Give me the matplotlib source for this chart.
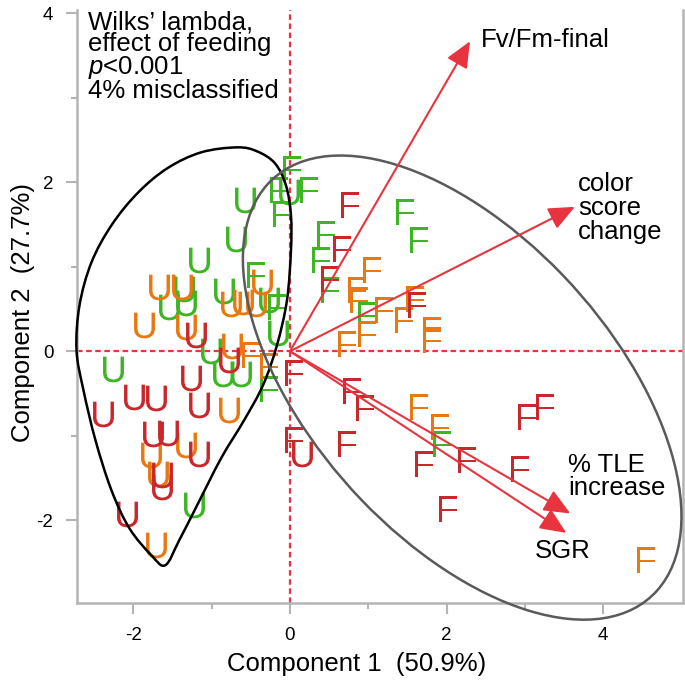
import matplotlib
matplotlib.use("Agg")
import matplotlib.pyplot as plt
import numpy as np
from matplotlib.path import Path
from matplotlib.patches import PathPatch, Ellipse

plt.rcParams['font.family'] = ['Liberation Sans', 'DejaVu Sans']
plt.rcParams['mathtext.fontset'] = 'custom'
plt.rcParams['mathtext.rm'] = 'Liberation Sans'
plt.rcParams['mathtext.it'] = 'Liberation Sans:italic'
plt.rcParams['axes.unicode_minus'] = False

GREEN = '#3db524'
ORANGE = '#e8780f'
RED = '#c8282b'
ARROW = '#e8343f'

# --- scores: unfed (U) and fed (F), by colour group ---
u_green_x = [-0.577, -0.692, -1.159, -1.350, -1.325, -1.541, -0.841, -0.268, -0.153, -0.013,
             -1.010, -0.854, -0.628, -2.264, -1.223]
u_green_y = [1.787, 1.334, 1.077, 0.742, 0.568, 0.524, 0.710, 0.604, 0.221, 1.885,
             0.004, -0.264, -0.264, -0.213, -1.822]
u_orange_x = [-1.669, -1.376, -1.860, -1.329, -0.755, -0.599, -0.437, -0.357, -0.735, -0.777,
              -1.329, -1.775, -1.690, -1.711]
u_orange_y = [0.761, 0.757, 0.308, 0.284, 0.564, 0.583, 0.564, 0.820, 0.063, -0.698,
              -1.112, -1.231, -1.447, -2.296]
u_red_x = [-1.197, -0.777, -1.261, -1.159, -2.391, -1.987, -1.711, -1.754, -1.563, -1.159,
           -1.631, -1.631, -2.076, 0.157]
u_red_y = [0.189, -0.107, -0.320, -0.639, -0.737, -0.541, -0.550, -0.974, -0.964, -1.211,
           -1.467, -1.609, -1.921, -1.211]

f_green_x = [0.029, -0.140, 0.242, -0.098, 1.474, 1.643, 0.455, 0.391, 0.518, 0.985,
             -0.437, -0.162, -0.268, 1.940]
f_green_y = [2.162, 1.905, 1.905, 1.630, 1.649, 1.314, 1.393, 1.077, 0.722, 0.426,
             0.899, 0.524, -0.441, -1.092]
f_orange_x = [1.048, 0.857, 0.879, 1.197, 1.452, 1.601, 0.730, 0.985, 1.813, 1.813,
              -0.501, -0.268, 1.643, 1.920, 4.552]
f_orange_y = [0.959, 0.722, 0.604, 0.485, 0.367, 0.624, 0.091, 0.209, 0.249, 0.130,
              -0.047, -0.178, -0.659, -0.896, -2.473]
f_red_x = [0.773, 0.666, 0.518, 1.622, 0.051, 0.794, 0.964, 0.730, 1.707, 2.259,
           3.023, 3.257, 2.939, 2.025, 0.051]
f_red_y = [1.728, 1.215, 0.860, 0.544, -0.254, -0.473, -0.669, -1.092, -1.329, -1.290,
           -0.778, -0.659, -1.388, -1.862, -1.053]

# --- loadings (arrow tips) ---
load_names = ['Fv/Fm-final', 'color\nscore\nchange', '% TLE\nincrease', 'SGR']
load_x = [2.30, 3.64, 3.58, 3.53]
load_y = [3.67, 1.71, -1.92, -2.15]

# --- group outlines ---
unfed_outline_x = [-0.675, -0.420, -0.191, -0.051, 0.013, 0.013, -0.038, -0.166, -0.344, -0.586,
                   -0.879, -1.185, -1.414, -1.592, -1.771, -2.051, -2.280, -2.484, -2.637, -2.726,
                   -2.688, -2.535, -2.280, -1.949, -1.567, -1.134]
unfed_outline_y = [2.414, 2.367, 2.225, 1.964, 1.609, 1.195, 0.604, 0.071, -0.402, -0.817,
                   -1.266, -1.822, -2.237, -2.533, -2.414, -2.095, -1.645, -1.053, -0.462, 0.012,
                   0.544, 1.053, 1.491, 1.870, 2.166, 2.355]
fed_center = (2.20, -0.43)
fed_width, fed_height, fed_angle = 6.92, 3.70, -44


def smooth_closed_path(xs, ys):
    pts = np.column_stack([xs, ys])
    n = len(pts)
    verts = [pts[0]]
    codes = [Path.MOVETO]
    for i in range(n):
        p0, p1, p2, p3 = pts[i - 1], pts[i], pts[(i + 1) % n], pts[(i + 2) % n]
        verts += [p1 + (p2 - p0) / 6.0, p2 - (p3 - p1) / 6.0, p2]
        codes += [Path.CURVE4] * 3
    return Path(verts, codes)


fig = plt.figure(figsize=(6.85, 6.85), dpi=100)
ax = fig.add_axes([0.1124, 0.1197, 0.8846, 0.8657])
ax.set_xlim(-2.72, 5.02)
ax.set_ylim(-2.98, 4.04)

# reference lines
ax.axvline(0, color=ARROW, lw=1.6, ls=(0, (2.5, 1.6)), zorder=1)
ax.axhline(0, color=ARROW, lw=1.6, ls=(0, (2.5, 1.6)), zorder=1)

# letters
groups = [
    (u_green_x, u_green_y, 'U', GREEN), (u_orange_x, u_orange_y, 'U', ORANGE),
    (u_red_x, u_red_y, 'U', RED), (f_green_x, f_green_y, 'F', GREEN),
    (f_orange_x, f_orange_y, 'F', ORANGE), (f_red_x, f_red_y, 'F', RED),
]
for gx, gy, letter, col in groups:
    ax.plot(gx, gy, ls='none', marker=r'$\mathregular{%s}$' % letter, ms=18.5,
            mew=0, color=col, zorder=3)

# outlines
ax.add_patch(PathPatch(smooth_closed_path(unfed_outline_x, unfed_outline_y),
                       fill=False, ec='black', lw=1.8, zorder=4, clip_on=False))
ax.add_patch(Ellipse(fed_center, fed_width, fed_height, angle=fed_angle,
                     fill=False, ec='#5a5a5a', lw=1.8, zorder=4, clip_on=False))

# loading arrows
for lx, ly in zip(load_x, load_y):
    ax.annotate('', xy=(lx, ly), xytext=(0, 0),
                arrowprops=dict(arrowstyle='-|>,head_length=0.8,head_width=0.35',
                                color=ARROW, lw=1.5, shrinkA=0, shrinkB=0,
                                mutation_scale=20), zorder=5)

ax.text(2.44, 3.68, load_names[0], fontsize=18.5, ha='left', va='center')
ax.text(3.68, 1.70, load_names[1], fontsize=18.5, ha='left', va='center', linespacing=1.0)
ax.text(3.55, -1.48, load_names[2], fontsize=18.5, ha='left', va='center', linespacing=0.95)
ax.text(3.49, -2.37, load_names[3], fontsize=18.5, ha='center', va='center')

ax.text(0.018, 1.0, 'Wilks\u2019 lambda,\neffect of feeding\n$\\it{p}$<0.001\n4% misclassified',
        transform=ax.transAxes, fontsize=18.5, ha='left', va='top', linespacing=0.9)

# axes styling
ax.spines['top'].set_visible(False)
for side in ['left', 'bottom', 'right']:
    ax.spines[side].set_color('#b4b4b4')
    ax.spines[side].set_linewidth(1.8)
ax.set_xticks([-2, 0, 2, 4])
ax.set_yticks([-2, 0, 2, 4])
ax.set_xticks([-1, 1, 3], minor=True)
ax.set_yticks([-1, 1, 3], minor=True)
ax.tick_params(which='major', direction='out', length=8, width=1.5, color='#b4b4b4',
               labelsize=13.5)
ax.tick_params(axis='x', which='major', pad=9)
ax.tick_params(axis='y', which='major', pad=9)
ax.tick_params(which='minor', direction='out', length=4.5, width=1.5, color='#b4b4b4')
ax.tick_params(axis='y', which='both', right=False)
for t in ax.xaxis.get_major_ticks() + ax.yaxis.get_major_ticks():
    if t.get_loc() == 0:
        t.tick1line.set_color(ARROW)

ax.set_xlabel('Component 1  (50.9%)', fontsize=18.5)
ax.set_ylabel('Component 2  (27.7%)', fontsize=18.5)
ax.xaxis.set_label_coords(0.462, -0.082)
ax.yaxis.set_label_coords(-0.07, 0.49)

fig.savefig('out.png', dpi=100)
